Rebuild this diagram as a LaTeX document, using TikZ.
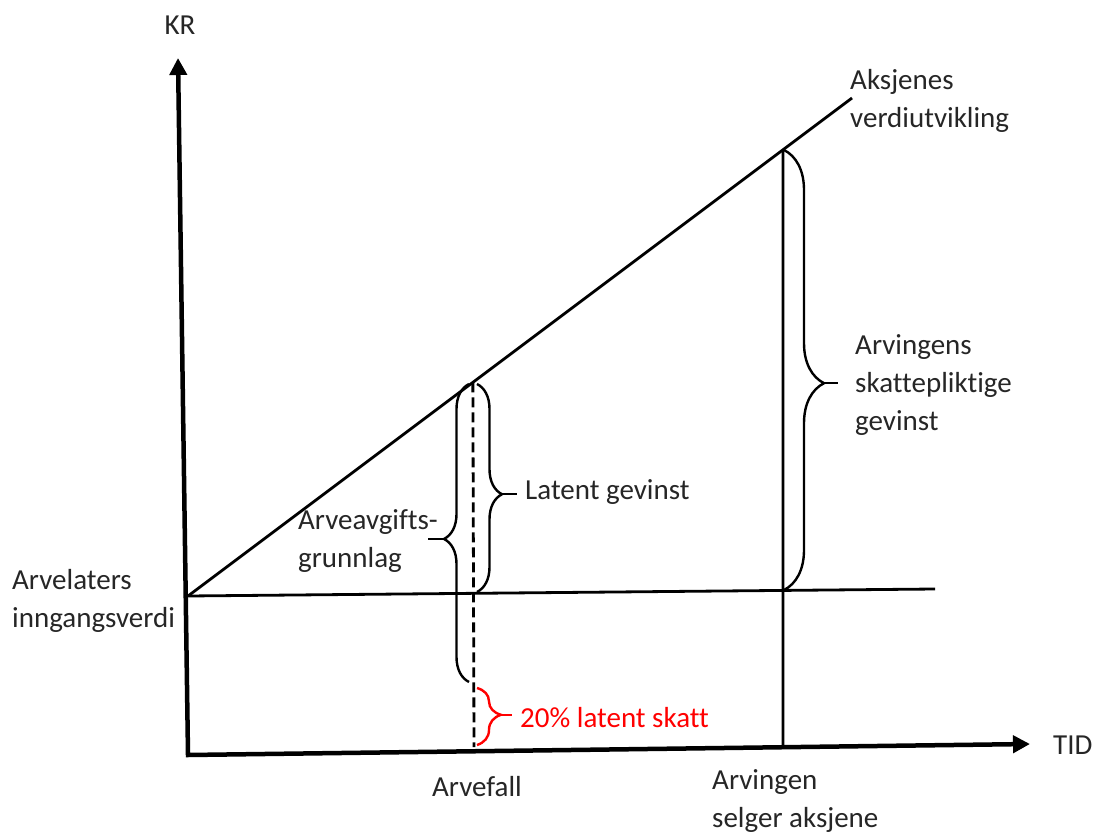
\documentclass[tikz,border=0pt]{standalone}
\usepackage{fontspec}
\setmainfont{Carlito}[Ligatures={NoCommon,NoContextual}]
\usepackage{tikz}
\usetikzlibrary{arrows.meta,calc,decorations.pathreplacing}

\begin{document}
\begin{tikzpicture}[
    x=1pt,y=-1pt,
    every node/.style={font=\fontsize{29}{38}\selectfont,text=black!85,inner sep=0pt},
    lbl/.style={align=left,anchor=west},
    axis/.style={line width=4.5pt,line join=miter,{Triangle[length=17pt,width=17pt]}-{Triangle[length=17pt,width=17pt]}},
    ln/.style={line width=2.8pt},
    dln/.style={line width=2.8pt,dash pattern=on 10pt off 5pt},
    brc/.style={decorate,decoration={brace,amplitude=#1},line width=2.4pt},
    stub/.style={line width=2.4pt}
]
\useasboundingbox (0,0) rectangle (1100,834);
% punkter
\coordinate (O) at (188,755);
\coordinate (kr) at (178,58);
\coordinate (tid) at (1030,744);
\coordinate (inn) at (188,596);
\coordinate (innend) at (935,589);
\coordinate (verdi) at (852,98);
\coordinate (arvtop) at ($(inn)!0.429!(verdi)$);
\coordinate (arvbot) at (474,747);
\coordinate (selgtop) at ($(inn)!0.896!(verdi)$);
\coordinate (selgbot) at (783,747);
% tekster
\node (krl) at (180,25) {KR};
\node[lbl] (tidl) at (1053,745) {TID};
\node[lbl] (aksj) at (850,101) {Aksjenes\\verdiutvikling};
\node[lbl] (arvl) at (12,601) {Arvelaters\\inngangsverdi};
\node (arvf) at (477,787) {Arvefall};
\node[lbl] (selg) at (712,801) {Arvingen\\selger aksjene};
\node[lbl] (lg) at (525,492) {Latent gevinst};
\node[lbl] (ag) at (298,541) {Arveavgifts-\\grunnlag};
\node[lbl] (skg) at (855,385) {Arvingens\\skattepliktige\\gevinst};
\node[lbl,text=red] (skatt) at (520,718) {20\% latent skatt};
% linjer
\draw[ln] (inn) -- (innend);
\draw[ln] (inn) -- (verdi);
\draw[ln] (selgtop) -- (selgbot);
\draw[dln] (arvtop) -- (arvbot);
\draw[axis] (kr) -- (O) -- (tid);
% klammer
\coordinate (lga) at (477,384);
\coordinate (lgb) at (477,592);
\coordinate (lgtip) at (502,494);
\coordinate (lgend) at (517,494);
\draw[brc=25,decoration={aspect=0.53}] (lga) -- (lgb);
\draw[stub] (lgtip) -- (lgend);
\coordinate (aga) at (469,682);
\coordinate (agb) at (469,384);
\coordinate (agtip) at (444,539);
\coordinate (agend) at (428,539);
\draw[brc=25,decoration={aspect=0.48}] (aga) -- (agb);
\draw[stub] (agtip) -- (agend);
\coordinate (ska) at (477,688);
\coordinate (skb) at (477,745);
\coordinate (sktip) at (501,715);
\coordinate (skend) at (512,715);
\draw[brc=24,decoration={aspect=0.47},red] (ska) -- (skb);
\draw[stub,red] (sktip) -- (skend);
\coordinate (sga) at (784,150);
\coordinate (sgb) at (784,590);
\coordinate (sgtip) at (824,383);
\coordinate (sgend) at (838,383);
\draw[brc=40,decoration={aspect=0.53}] (sga) -- (sgb);
\draw[stub] (sgtip) -- (sgend);
\end{tikzpicture}
\end{document}
